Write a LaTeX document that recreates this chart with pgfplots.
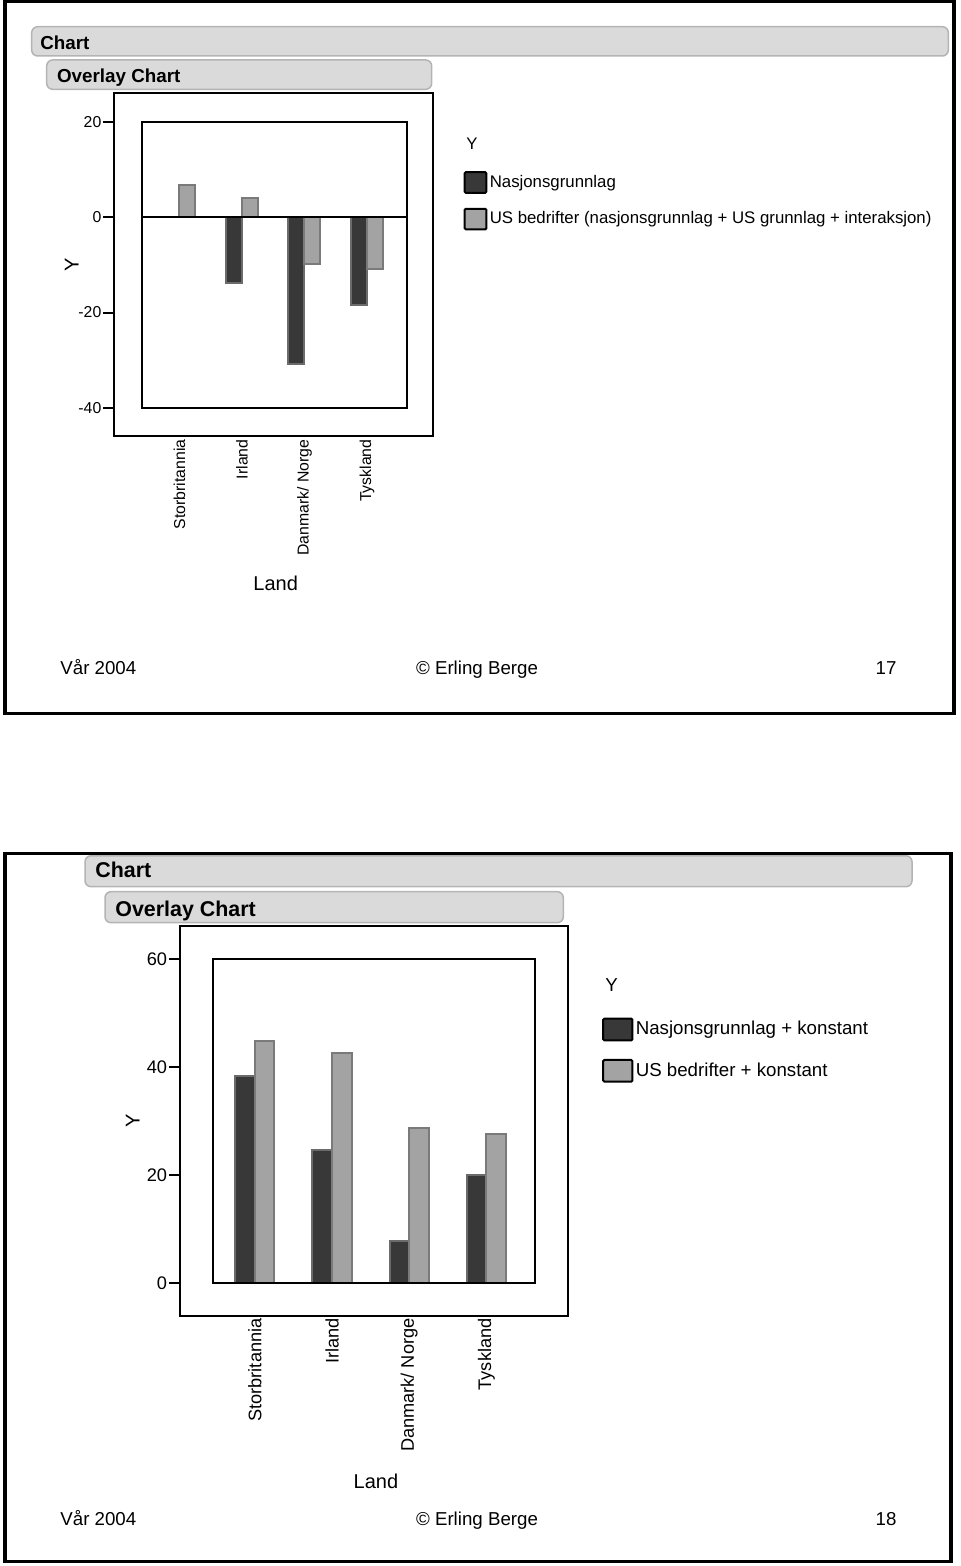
\documentclass[border=0pt]{standalone}
\usepackage{fontspec}
\setmainfont{Liberation Sans}
\usepackage{pgfplots}
\pgfplotsset{compat=1.18}
\definecolor{darkbar}{HTML}{383838}
\definecolor{darkedge}{HTML}{6B6B6B}
\definecolor{lightbar}{HTML}{A3A3A3}
\definecolor{lightedge}{HTML}{7A7A7A}
\definecolor{boxfill}{HTML}{DADADA}
\definecolor{boxedge}{HTML}{B4B4B4}
\begin{document}
\begin{tikzpicture}
\useasboundingbox (0pt,0pt) rectangle (480pt,-783pt);
% slide borders
\draw[line width=1.75pt] (2.5pt,-0.85pt) rectangle (477pt,-356.65pt);
\draw[line width=1.75pt] (2.5pt,-426.65pt) rectangle (475.5pt,-780.85pt);
% title boxes slide 1
\draw[boxedge, fill=boxfill, line width=0.75pt, rounded corners=3pt] (15.85pt,-13.35pt) rectangle (474.15pt,-28pt);
\node[anchor=base west, inner sep=0pt, font=\fontsize{9.4}{11}\selectfont\bfseries] at (20pt,-24.66pt) {Chart};
\draw[boxedge, fill=boxfill, line width=0.75pt, rounded corners=3pt] (23.35pt,-30pt) rectangle (215.85pt,-44.65pt);
\node[anchor=base west, inner sep=0pt, font=\fontsize{9.4}{11}\selectfont\bfseries] at (28.35pt,-41.31pt) {Overlay Chart};
% title boxes slide 2
\draw[boxedge, fill=boxfill, line width=0.75pt, rounded corners=3pt] (42.5pt,-427.9pt) rectangle (456pt,-443.35pt);
\node[anchor=base west, inner sep=0pt, font=\fontsize{10.7}{12}\selectfont\bfseries] at (47.5pt,-438.82pt) {Chart};
\draw[boxedge, fill=boxfill, line width=0.75pt, rounded corners=3pt] (52.5pt,-445.85pt) rectangle (281.65pt,-461.35pt);
\node[anchor=base west, inner sep=0pt, font=\fontsize{10.7}{12}\selectfont\bfseries] at (57.5pt,-458pt) {Overlay Chart};
% footers
\begin{scope}[every node/.style={inner sep=0pt, font=\fontsize{9.35}{11}\selectfont}]
\node[anchor=base west] at (30pt,-337.35pt) {Vår 2004};
\node[anchor=base] at (238.5pt,-337.35pt) {© Erling Berge};
\node[anchor=base] at (443pt,-337.35pt) {17};
\node[anchor=base west] at (30pt,-762.85pt) {Vår 2004};
\node[anchor=base] at (238.5pt,-762.85pt) {© Erling Berge};
\node[anchor=base] at (443pt,-762.85pt) {18};
\end{scope}
% legend titles
\node[anchor=west, inner sep=0pt, font=\fontsize{8.35}{10}\selectfont] at (233pt,-71.65pt) {Y};
\node[anchor=west, inner sep=0pt, font=\fontsize{9.35}{11}\selectfont] at (302.5pt,-492.5pt) {Y};

% ---------- chart 1 ----------
\begin{axis}[
 at={(57.15pt,-218pt)}, anchor=south west,
 scale only axis, width=159.5pt, height=171.35pt,
 xmin=-1.043, xmax=4.061, ymin=-45.9, ymax=26.0,
 axis line style={line width=1pt},
 ytick={-40,-20,0,20}, xtick={0,1,2,3},
 xticklabels={Storbritannia, Irland, Danmark/ Norge, Tyskland},
 tick align=outside, tick pos=left, major tick length=5.5pt,
 ytick style={line width=1pt, black},
 xtick style={draw=none},
 tick label style={font=\fontsize{7.9}{9}\selectfont},
 /pgf/number format/assume math mode=true,
 yticklabel style={inner sep=0.8pt},
 x tick label style={rotate=90, anchor=east, inner sep=0.5pt},
 xticklabel shift=-4.4pt,
 ylabel={Y}, xlabel={Land},
 label style={font=\fontsize{7.9}{9}\selectfont},
 every axis y label/.style={at={(axis description cs:-0.1335,0.5)}, rotate=90, anchor=center},
 every axis x label/.style={at={(axis description cs:0.506,-0.429)}, anchor=center},
 ybar, bar width=0.256,
 legend style={at={(axis description cs:1.094,0.774)}, anchor=north west, draw=none, fill=none, inner sep=0pt, row sep=6.95pt, column sep=1.2pt, font=\fontsize{8.4}{10}\selectfont, nodes={inner sep=0pt}},
 legend cell align=left,
]
\addplot[fill=darkbar, draw=darkedge, line width=1pt, bar shift=-0.128, forget plot] coordinates {(1,-13.8) (2,-30.8) (3,-18.5)};
\addplot[fill=lightbar, draw=lightedge, line width=1pt, bar shift=0.128, forget plot] coordinates {(0,6.7) (1,4.0) (2,-9.9) (3,-10.9)};
\draw[line width=1pt] (axis cs:-0.605,-40) rectangle (axis cs:3.645,20);
\draw[line width=1pt] (axis cs:-0.605,0) -- (axis cs:3.645,0);
\addlegendimage{legend image code/.code={\draw[fill=darkbar, draw=black, line width=1pt, rounded corners=0.6pt] (0pt,-5.175pt) rectangle (10.85pt,5.175pt);}}
\addlegendentry{Nasjonsgrunnlag}
\addlegendimage{legend image code/.code={\draw[fill=lightbar, draw=black, line width=1pt, rounded corners=0.6pt] (0pt,-5.175pt) rectangle (10.85pt,5.175pt);}}
\addlegendentry{US bedrifter (nasjonsgrunnlag + US grunnlag + interaksjon)}
\end{axis}

% ---------- chart 2 ----------
\begin{axis}[
 at={(90pt,-658pt)}, anchor=south west,
 scale only axis, width=194pt, height=195pt,
 xmin=-0.969, xmax=4.057, ymin=-6.05, ymax=66.1,
 axis line style={line width=1pt},
 ytick={0,20,40,60}, xtick={0,1,2,3},
 xticklabels={Storbritannia, Irland, Danmark/ Norge, Tyskland},
 tick align=outside, tick pos=left, major tick length=5.5pt,
 ytick style={line width=1pt, black},
 xtick style={draw=none},
 tick label style={font=\fontsize{9.1}{11}\selectfont},
 /pgf/number format/assume math mode=true,
 yticklabel style={inner sep=0.8pt},
 x tick label style={rotate=90, anchor=east, inner sep=0.5pt},
 xticklabel shift=-5pt,
 ylabel={Y}, xlabel={Land},
 label style={font=\fontsize{9.4}{11}\selectfont},
 every axis y label/.style={at={(axis description cs:-0.1219,0.5)}, rotate=90, anchor=center},
 every axis x label/.style={at={(axis description cs:0.505,-0.4249)}, anchor=center},
 ybar, bar width=0.255,
 legend style={at={(axis description cs:1.087,0.766)}, anchor=north west, draw=none, fill=none, inner sep=0pt, row sep=8.8pt, column sep=1.15pt, font=\fontsize{9.35}{11}\selectfont, nodes={inner sep=0pt}},
 legend cell align=left,
]
\addplot[fill=darkbar, draw=darkedge, line width=1pt, bar shift=-0.1275, forget plot] coordinates {(0,38.4) (1,24.7) (2,7.8) (3,20.0)};
\addplot[fill=lightbar, draw=lightedge, line width=1pt, bar shift=0.1275, forget plot] coordinates {(0,44.8) (1,42.6) (2,28.7) (3,27.6)};
\draw[line width=1pt] (axis cs:-0.545,0) rectangle (axis cs:3.630,60);
\addlegendimage{legend image code/.code={\draw[fill=darkbar, draw=black, line width=1pt, rounded corners=0.6pt] (0pt,-5.425pt) rectangle (14.65pt,5.425pt);}}
\addlegendentry{Nasjonsgrunnlag + konstant}
\addlegendimage{legend image code/.code={\draw[fill=lightbar, draw=black, line width=1pt, rounded corners=0.6pt] (0pt,-5.425pt) rectangle (14.65pt,5.425pt);}}
\addlegendentry{US bedrifter + konstant}
\end{axis}
\end{tikzpicture}
\end{document}
